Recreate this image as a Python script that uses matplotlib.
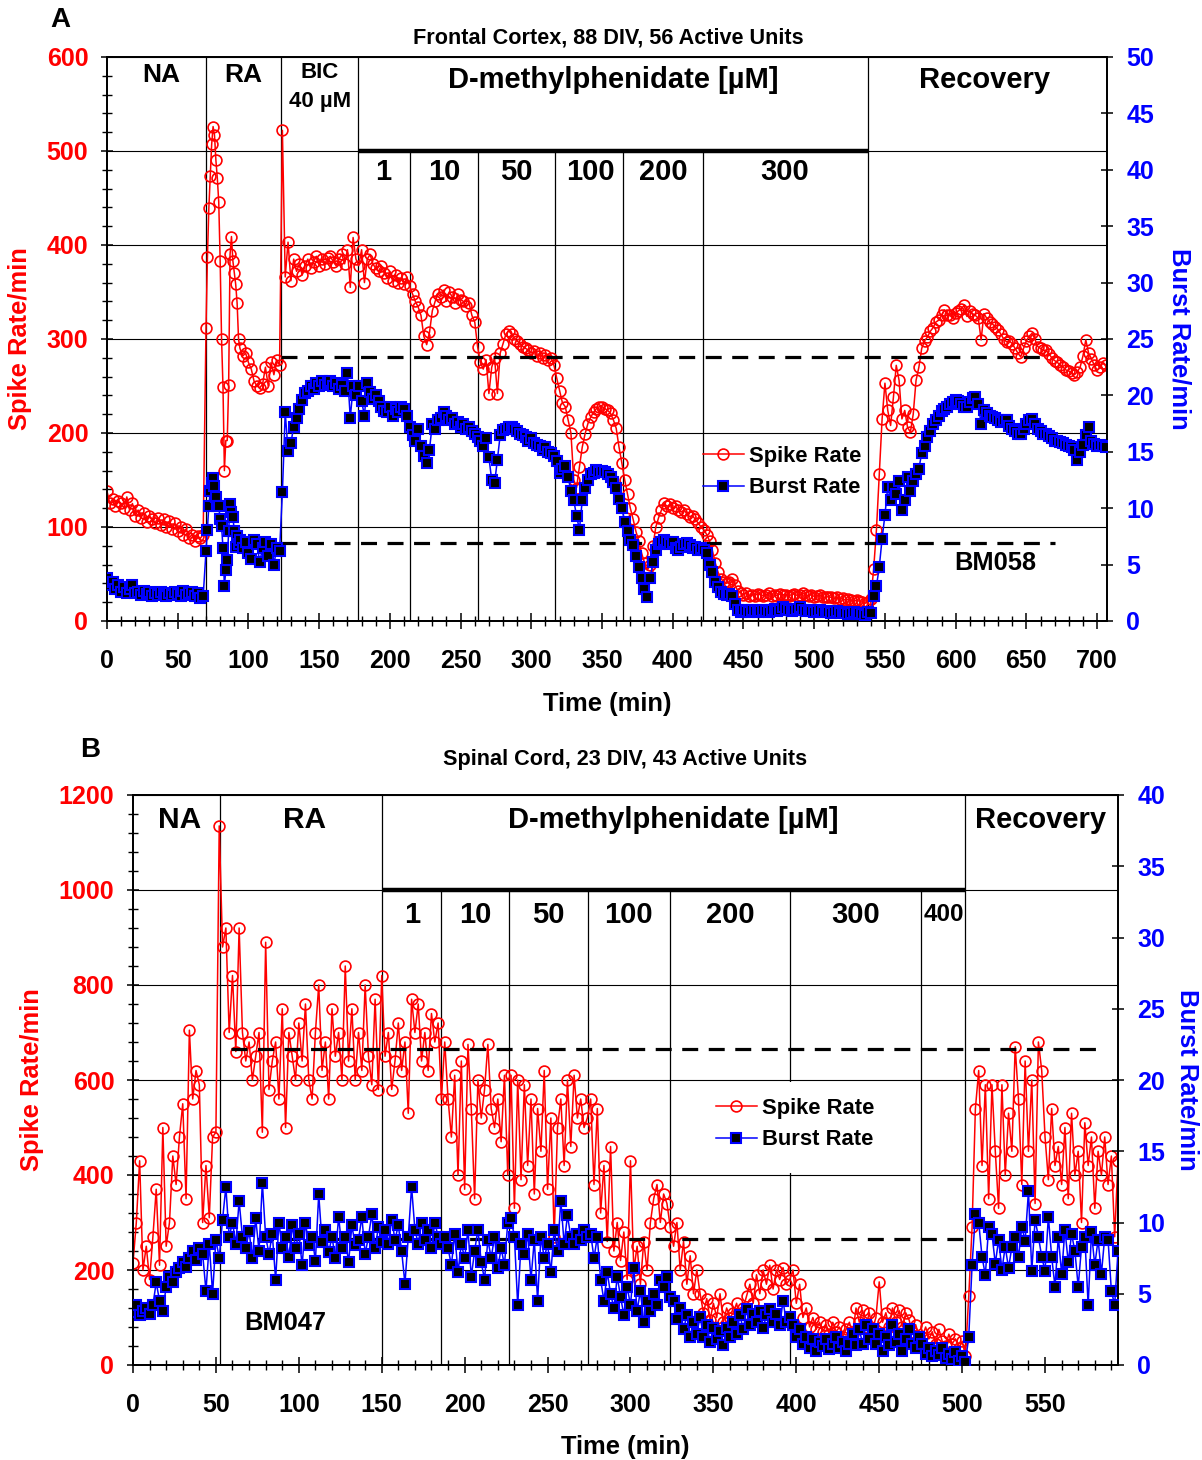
import numpy as np
import matplotlib
matplotlib.use('Agg')
import matplotlib.pyplot as plt
from matplotlib.lines import Line2D
from matplotlib.patches import Rectangle

plt.rcParams['font.family'] = ['Liberation Sans', 'DejaVu Sans']
plt.rcParams['font.weight'] = 'bold'

RED = '#FF0000'
BLUE = '#0000FF'

# ---------------- Panel A data (Frontal Cortex) ----------------
timeA = np.concatenate([np.arange(0, 70, 2), np.arange(70, 94, 1), np.arange(94, 708, 2)])

spikeA_NA = [138, 125, 130, 122, 128, 125, 120, 132, 118, 125, 112, 118, 110, 115, 105, 112, 108, 104, 110, 102,
             108, 100, 106, 98, 104, 96, 100, 92, 98, 88, 92, 85, 90, 88, 92]
spikeA_RA1 = [312, 387, 439, 473, 507, 526, 517, 490, 471, 446, 383, 300, 249, 160, 192, 192, 251, 390, 409, 383,
              370, 358, 338, 300]
spikeA_RA2 = [290, 282, 285, 275, 268, 255, 250, 248, 252, 270, 250, 275, 262, 278, 272]
spikeA_BIC = [522, 366, 403, 362, 385, 372, 380, 368, 378, 385, 375, 382, 388, 378, 385, 380, 386, 388, 382, 378,
              385, 390, 380, 395, 355, 408, 385]
spikeA_1 = [378, 395, 360, 385, 390, 380, 375, 372, 378, 370, 365, 372, 362, 368, 360, 365, 358, 366]
spikeA_10 = [356, 348, 340, 334, 325, 303, 294, 307, 330, 340, 348, 345, 352, 340, 350, 345, 338, 348, 342, 340,
             335, 338, 325, 318]
spikeA_50 = [292, 275, 268, 278, 242, 270, 280, 242, 285, 295, 305, 309, 305, 300, 298, 295, 292, 290, 288, 285,
             287, 282, 285, 280, 283, 278, 280, 272]
spikeA_100 = [258, 245, 232, 228, 214, 200, 150, 142, 164, 185, 199, 210, 217, 222, 226, 228, 228, 226, 224, 221,
              214, 205, 185, 168]
spikeA_200 = [150, 135, 120, 108, 95, 85, 72, 62, 54, 60, 80, 100, 110, 118, 125, 122, 124, 120, 122, 118,
              116, 118, 114, 111, 112, 108, 104, 100]
spikeA_300 = [97, 92, 85, 75, 62, 52, 45, 42, 40, 42, 45, 38, 32, 30, 28, 30, 27, 28, 27, 29,
              28, 27, 28, 30, 27, 28, 27, 29, 28, 28, 27, 28, 29, 27, 28, 30, 28, 27, 28, 26,
              27, 28, 26, 25, 26, 25, 24, 25, 23, 24, 22, 23, 22, 21, 22, 21, 20, 19]
spikeA_REC = [20, 23, 55, 97, 156, 215, 253, 224, 208, 238, 272, 256, 215, 224, 206, 201, 220, 256, 270, 290,
              298, 302, 308, 312, 318, 320, 325, 331, 326, 325, 322, 328, 330, 332, 336, 324, 330, 327, 325, 322,
              299, 327, 322, 318, 316, 313, 310, 305, 300, 297, 298, 295, 290, 285, 281, 290, 298, 303, 306, 300,
              292, 290, 288, 288, 284, 280, 277, 275, 272, 270, 267, 266, 264, 262, 265, 270, 282, 299, 285, 279,
              272, 267, 270, 274, 272]

burstA_NA = [3.8, 3.2, 3.5, 2.8, 3.2, 2.6, 3.0, 2.5, 2.8, 3.2, 2.5, 2.6, 2.3, 2.7, 2.4, 2.6, 2.2, 2.5, 2.3, 2.6,
             2.4, 2.2, 2.5, 2.3, 2.6, 2.4, 2.2, 2.7, 2.3, 2.5, 2.6, 2.2, 2.5, 2.0, 2.2]
burstA_RA1 = [6.2, 8.1, 10.2, 11.5, 12.2, 12.7, 12.0, 11.0, 10.2, 10.2, 9.0, 8.4, 6.5, 3.1, 4.5, 5.4, 8.0, 10.4,
              9.7, 9.2, 8.0, 6.6, 7.5, 6.8]
burstA_RA2 = [7.2, 6.5, 7.0, 6.0, 5.5, 7.2, 6.8, 5.2, 6.5, 7.0, 5.8, 6.8, 5.0, 6.5, 6.2]
burstA_BIC = [11.4, 18.5, 15.1, 15.8, 17.2, 18.0, 18.8, 19.6, 20.2, 20.4, 20.8, 20.6, 21.1, 20.8, 21.3, 20.9,
              21.1, 21.3, 20.8, 21.1, 20.6, 20.9, 20.4, 22.0, 18.0, 20.8, 20.0]
burstA_1 = [20.8, 19.5, 18.2, 21.1, 20.3, 19.7, 20.0, 19.5, 19.0, 18.6, 18.5, 19.0, 18.2, 18.8, 18.5, 19.0, 18.8, 18.2]
burstA_10 = [17.2, 16.5, 16.0, 17.0, 15.5, 14.6, 14.0, 15.2, 17.5, 17.0, 17.8, 18.0, 18.5, 18.2, 17.8, 18.0,
             17.5, 17.6, 17.2, 17.5, 17.0, 17.2, 16.8, 16.6]
burstA_50 = [16.3, 16.0, 15.5, 16.2, 14.5, 12.5, 12.2, 14.3, 16.5, 16.9, 17.0, 17.2, 17.2, 17.0, 16.8, 16.6,
             16.5, 16.3, 16.0, 16.2, 15.8, 15.6, 15.5, 15.2, 15.4, 15.0, 14.9, 14.6]
burstA_100 = [14.2, 13.1, 13.5, 13.7, 12.8, 11.5, 10.7, 9.3, 8.1, 10.7, 11.8, 12.5, 13.0, 13.1, 13.4, 13.2,
              13.3, 13.2, 13.0, 12.8, 12.3, 11.8, 10.8, 10.0]
burstA_200 = [8.8, 8.0, 7.2, 6.7, 5.8, 4.8, 3.8, 2.8, 2.1, 3.8, 5.2, 6.3, 6.8, 7.0, 7.2, 7.0, 6.8, 7.0, 6.5, 6.3,
              6.6, 6.8, 6.9, 6.7, 6.5, 6.6, 6.3, 6.5]
burstA_300 = [6.3, 6.0, 5.0, 4.3, 3.5, 3.0, 2.6, 2.4, 2.3, 2.4, 2.2, 1.5, 1.0, 0.8, 1.0, 0.9, 0.8, 1.0, 0.9, 0.8,
              0.9, 1.0, 0.9, 0.8, 1.0, 1.1, 0.9, 1.0, 1.2, 1.1, 1.0, 0.9, 1.0, 1.1, 1.2, 1.0, 0.9, 1.0, 0.9, 0.8,
              0.9, 1.0, 0.8, 0.9, 0.8, 0.7, 0.8, 0.9, 0.7, 0.8, 0.7, 0.6, 0.7, 0.8, 0.6, 0.7, 0.6, 0.5]
burstA_REC = [0.8, 0.7, 2.2, 3.1, 4.8, 7.3, 9.4, 11.9, 10.7, 11.9, 11.3, 12.4, 9.8, 10.7, 12.8, 11.5, 12.4, 13.0,
              13.5, 14.9, 15.5, 16.3, 16.8, 17.5, 17.8, 18.2, 18.6, 18.8, 19.0, 19.2, 19.4, 19.6, 19.5, 19.2,
              19.0, 19.0, 19.4, 19.8, 19.9, 19.2, 17.5, 18.7, 18.4, 18.2, 18.1, 18.0, 17.8, 17.6, 17.8, 17.8,
              17.3, 17.0, 16.8, 16.6, 16.6, 17.0, 17.5, 17.8, 17.9, 17.5, 17.0, 16.8, 16.6, 16.6, 16.4, 16.2,
              16.0, 16.0, 15.9, 15.8, 15.6, 15.5, 15.4, 15.2, 14.3, 15.0, 15.6, 16.5, 17.2, 16.0, 15.7, 15.5,
              15.6, 15.5, 15.4]

spikeA = np.array(spikeA_NA + spikeA_RA1 + spikeA_RA2 + spikeA_BIC + spikeA_1 + spikeA_10 + spikeA_50 +
                  spikeA_100 + spikeA_200 + spikeA_300 + spikeA_REC, dtype=float)
burstA = np.array(burstA_NA + burstA_RA1 + burstA_RA2 + burstA_BIC + burstA_1 + burstA_10 + burstA_50 +
                  burstA_100 + burstA_200 + burstA_300 + burstA_REC, dtype=float)
assert len(spikeA) == len(timeA) == len(burstA), (len(spikeA), len(timeA), len(burstA))

phaseA_full = [70, 123, 177.5, 538]
phaseA_conc = [214, 262, 317, 365, 421.5]
concA_labels = ['1', '10', '50', '100', '200', '300']
refA_spike = 281      # dashed reference levels (spike-rate scale)
refA_burst = 83

# ---------------- Panel B data (Spinal Cord) ----------------
timeB = np.arange(0, 596, 2)

spikeB_NA = [215, 300, 430, 200, 250, 180, 270, 370, 210, 500, 250, 300, 440, 380, 480, 550, 350, 705, 560, 620,
             590, 300, 420, 310, 480, 490, 1135]
spikeB_RA = [880, 920, 700, 820, 660, 920, 700, 640, 680, 600, 650, 700, 490, 890, 580, 640, 680, 560, 750, 500,
             700, 650, 600, 720, 640, 760, 600, 560, 700, 800, 620, 680, 560, 750, 650, 700, 600, 840, 640, 750,
             600, 700, 620, 800, 650, 590, 770, 580, 820]
spikeB_1 = [650, 700, 580, 640, 720, 620, 680, 530, 770, 700, 760, 640, 700, 620, 740, 680, 720, 560]
spikeB_10 = [680, 560, 480, 610, 400, 640, 370, 675, 540, 350, 600, 520, 580, 675, 540, 500, 560, 470, 610, 400]
spikeB_50 = [610, 330, 600, 390, 590, 420, 560, 360, 540, 450, 620, 370, 520, 270, 500, 560, 420, 600, 460, 610,
             520, 560, 500, 520]
spikeB_100 = [560, 380, 540, 320, 420, 260, 460, 240, 300, 220, 280, 180, 430, 200, 250, 170, 260, 200, 300, 350,
              380, 300, 360, 340, 290]
spikeB_200 = [250, 300, 200, 260, 170, 230, 150, 200, 150, 110, 140, 95, 130, 100, 150, 90, 120, 100, 110, 130,
              95, 120, 145, 170, 130, 190, 150, 200, 170, 210, 160, 200, 180, 205, 170, 180]
spikeB_300 = [200, 130, 170, 100, 120, 80, 100, 75, 90, 70, 85, 65, 90, 70, 80, 60, 75, 90, 65, 120,
              90, 115, 80, 110, 75, 100, 175, 90, 110, 80, 120, 90, 115, 80, 110, 95, 70, 85, 60]
spikeB_400 = [60, 80, 55, 70, 45, 75, 50, 40, 65, 45, 55, 35, 50, 20]
spikeB_REC = [145, 290, 540, 620, 420, 590, 350, 590, 450, 330, 590, 400, 530, 450, 670, 560, 380, 640, 450, 600,
              340, 680, 620, 480, 390, 540, 420, 460, 380, 500, 350, 530, 400, 450, 300, 510, 420, 480, 330, 450,
              400, 480, 380, 440, 270, 430]

burstB_NA = [3.7, 4.2, 3.5, 3.8, 4.0, 3.6, 4.2, 5.8, 4.5, 3.8, 5.5, 6.2, 5.8, 6.5, 6.8, 7.2, 6.9, 7.5, 8.0, 7.4,
             8.2, 7.8, 5.2, 8.5, 5.0, 8.8, 7.5]
burstB_RA = [10.2, 12.5, 9.0, 10.0, 8.5, 11.5, 9.0, 8.2, 9.4, 7.5, 10.3, 8.0, 12.8, 9.0, 7.8, 9.2, 6.0, 10.0, 8.2,
             9.0, 7.6, 9.8, 8.2, 9.2, 7.0, 10.0, 8.4, 9.0, 7.3, 12.0, 8.6, 9.5, 7.9, 9.0, 7.5, 10.4, 8.2, 9.0, 7.2,
             9.8, 8.4, 8.8, 10.4, 7.8, 9.0, 10.6, 8.2, 9.7, 8.6]
burstB_1 = [9.5, 8.5, 10.2, 8.8, 9.8, 8.0, 5.7, 9.0, 12.5, 9.5, 8.5, 10.0, 8.8, 9.5, 8.2, 10.0, 9.0, 8.5]
burstB_10 = [9.0, 8.2, 7.0, 9.2, 6.5, 8.5, 7.5, 9.5, 6.2, 8.0, 9.5, 7.2, 6.0, 8.8, 7.5, 9.0, 6.8, 8.2, 7.0, 10.0]
burstB_50 = [10.3, 9.0, 4.2, 8.5, 7.8, 9.2, 6.0, 8.8, 4.5, 9.0, 7.5, 8.5, 6.5, 9.5, 8.0, 11.5, 8.5, 10.5, 9.0, 8.5,
             9.2, 8.8, 9.5, 9.0]
burstB_100 = [9.2, 7.5, 9.0, 6.0, 4.5, 6.5, 5.0, 4.0, 6.2, 4.8, 3.5, 5.5, 4.2, 6.8, 3.8, 5.2, 3.0, 4.5, 3.8, 5.0,
              4.2, 6.0, 5.5, 6.2, 4.8]
burstB_200 = [4.5, 3.2, 4.0, 2.5, 3.5, 2.0, 3.0, 2.2, 3.4, 2.0, 2.8, 1.6, 2.6, 1.8, 2.4, 1.4, 2.6, 2.0, 3.0, 2.2,
              3.5, 2.5, 3.9, 2.8, 3.6, 3.0, 3.8, 2.6, 3.5, 3.9, 3.0, 3.6, 2.8, 4.5, 3.0, 3.4]
burstB_300 = [2.8, 2.0, 2.5, 1.5, 2.0, 1.2, 1.8, 1.0, 1.6, 1.3, 1.8, 1.1, 1.5, 2.0, 1.2, 1.6, 1.0, 1.5, 2.2, 1.4,
              2.5, 1.5, 2.8, 1.8, 2.5, 1.5, 2.2, 1.0, 2.0, 1.4, 2.8, 1.6, 2.2, 1.0, 1.8, 2.5, 1.5, 1.2, 2.0]
burstB_400 = [1.5, 0.8, 1.2, 0.6, 1.0, 0.7, 1.2, 0.5, 0.8, 0.4, 0.9, 0.3, 0.6, 0.2]
burstB_REC = [2.0, 7.0, 10.6, 10.0, 7.6, 6.3, 9.7, 9.2, 7.1, 8.8, 6.7, 8.3, 6.8, 8.3, 9.0, 7.6, 9.7, 8.7, 12.2, 6.6,
              10.2, 9.0, 7.6, 6.6, 10.4, 7.6, 5.5, 9.0, 6.4, 9.5, 7.2, 9.2, 8.0, 5.5, 8.3, 9.0, 4.2, 9.3, 7.0, 8.8,
              6.4, 9.0, 8.8, 5.2, 4.2, 8.0]

spikeB = np.array(spikeB_NA + spikeB_RA + spikeB_1 + spikeB_10 + spikeB_50 + spikeB_100 + spikeB_200 +
                  spikeB_300 + spikeB_400 + spikeB_REC, dtype=float)
burstB = np.array(burstB_NA + burstB_RA + burstB_1 + burstB_10 + burstB_50 + burstB_100 + burstB_200 +
                  burstB_300 + burstB_400 + burstB_REC, dtype=float)
assert len(spikeB) == len(timeB) == len(burstB), (len(spikeB), len(timeB), len(burstB))

phaseB_full = [52.5, 150, 502]
phaseB_conc = [186, 227, 274.5, 324, 396, 475]
concB_labels = ['1', '10', '50', '100', '200', '300', '400']
refB_spike = 665
refB_burst = 265

# ---------------- Figure ----------------
W, H = 1202, 1460
fig = plt.figure(figsize=(W / 100, H / 100), dpi=100)


def fx(x):
    return x / W


def fy(y):
    return 1 - y / H


def make_axes(l, r, b, t):
    return fig.add_axes([fx(l), fy(b), (r - l) / W, (b - t) / H])


TICK_FS = 18


def style(ax, ax2, xmax, ymax, ystep, yminor, bmax):
    ax.set_xlim(0, xmax)
    ax.set_ylim(0, ymax)
    ax2.set_ylim(0, bmax)
    ax.set_xticks(np.arange(0, xmax + 1, 50))
    ax.set_xticks(np.arange(0, xmax + 1, 10), minor=True)
    ax.set_yticks(np.arange(0, ymax + 1, ystep))
    ax.set_yticks(np.arange(0, ymax + 1, yminor), minor=True)
    ax2.set_yticks(np.arange(0, bmax + 1, 5))
    ax.yaxis.grid(True, which='major', color='black', lw=0.8)
    ax.set_axisbelow(True)
    for a in (ax, ax2):
        for s in a.spines.values():
            s.set_linewidth(1.3)
    ax.tick_params(axis='x', which='major', direction='inout', length=11, width=1.1, pad=14.5,
                   labelsize=TICK_FS, labelcolor='black')
    ax.tick_params(axis='x', which='minor', direction='inout', length=7, width=1.0)
    ax.tick_params(axis='y', which='major', direction='inout', length=8, width=1.1, pad=9.5,
                   labelsize=TICK_FS, labelcolor=RED)
    ax.tick_params(axis='y', which='minor', direction='inout', length=7, width=1.0)
    ax2.tick_params(axis='y', which='major', direction='inout', length=9, width=1.1, pad=9.5,
                    labelsize=TICK_FS, labelcolor=BLUE)
    for lab in ax.get_xticklabels() + ax.get_yticklabels() + ax2.get_yticklabels():
        lab.set_fontweight('bold')


spike_style = dict(color=RED, lw=1.1, marker='o', ms=7.8, mfc='none', mec=RED, mew=1.2)
burst_style = dict(color=BLUE, lw=1.1, marker='s', ms=7.0, mfc='black', mec=BLUE, mew=1.5)
dash = (0, (5, 3.3))
LEG = {'weight': 'bold', 'size': 15.8}


def txt(x, y, s, size, **kw):
    fig.text(fx(x), fy(y), s, fontsize=size, fontweight='bold', ha='center', va='center', **kw)


# ---------- Panel A ----------
axA = make_axes(107, 1107, 621, 57)
axA2 = axA.twinx()
style(axA, axA2, 707, 600, 100, 20, 50)

for t in phaseA_full:
    axA.axvline(t, color='black', lw=0.9, zorder=1.5)
for t in phaseA_conc:
    axA.axvline(t, ymin=0, ymax=500 / 600, color='black', lw=0.9, zorder=1.5)
axA.hlines(500, phaseA_full[2], phaseA_full[3], color='black', lw=3.2, zorder=1.6)
axA.hlines(refA_spike, 123, 666, color='black', lw=2.3, linestyles=[dash], zorder=4)
axA.hlines(refA_burst, 123, 670, color='black', lw=2.3, linestyles=[dash], zorder=4)

axA.plot(timeA, spikeA, zorder=3, **spike_style)
axA2.plot(timeA, burstA, zorder=3, **burst_style)

hA = [Line2D([], [], **spike_style), Line2D([], [], **burst_style)]
axA2.legend(hA, ['Spike Rate', 'Burst Rate'], loc='center left', bbox_to_anchor=(fx(703), fy(472)),
            bbox_transform=fig.transFigure, frameon=False, handlelength=1.85,
            handletextpad=0.25, labelspacing=0.5, borderpad=0, borderaxespad=0, prop=LEG)

txt(60, 20, 'A', 20)
txt(608, 38, 'Frontal Cortex, 88 DIV, 56 Active Units', 15.6)
txt(161, 75, 'NA', 19)
txt(243, 75, 'RA', 19)
txt(320, 73, 'BIC', 16)
txt(320, 102, '40 µM', 16)
txt(613, 80, 'D-methylphenidate [µM]', 21)
txt(985, 80, 'Recovery', 21)
for lab, xp in zip(concA_labels, [383, 444, 516, 590, 663, 785]):
    txt(xp, 172, lab, 21)
txt(995, 563, 'BM058', 18.3)
txt(607, 704, 'Time (min)', 18.4)
txt(20, 339, 'Spike Rate/min', 18.4, color=RED, rotation=90)
txt(1180, 339, 'Burst Rate/min', 18.4, color=BLUE, rotation=270)

# ---------- Panel B ----------
axB = make_axes(133, 1118, 1365, 795)
axB2 = axB.twinx()
style(axB, axB2, 594, 1200, 200, 40, 40)

for t in phaseB_full:
    axB.axvline(t, color='black', lw=0.9, zorder=1.5)
for t in phaseB_conc:
    axB.axvline(t, ymin=0, ymax=1000 / 1200, color='black', lw=0.9, zorder=1.5)
axB.hlines(1000, phaseB_full[1], phaseB_full[2], color='black', lw=3.2, zorder=1.6)
axB.hlines(refB_spike, 59, 582, color='black', lw=2.3, linestyles=[dash], zorder=4)
axB.hlines(refB_burst, 59, 502, color='black', lw=2.3, linestyles=[dash], zorder=4)
axB.add_patch(Rectangle((345, 405), 105, 190, facecolor='white', edgecolor='none', zorder=1.7))

axB.plot(timeB, spikeB, zorder=3, **spike_style)
axB2.plot(timeB, burstB, zorder=3, **burst_style)

axB2.legend(hA, ['Spike Rate', 'Burst Rate'], loc='center left', bbox_to_anchor=(fx(716), fy(1124)),
            bbox_transform=fig.transFigure, frameon=False, handlelength=1.85,
            handletextpad=0.25, labelspacing=0.5, borderpad=0, borderaxespad=0, prop=LEG)

txt(90, 750, 'B', 20)
txt(625, 760, 'Spinal Cord, 23 DIV, 43 Active Units', 15.6)
txt(180, 820, 'NA', 21.5)
txt(305, 820, 'RA', 21.5)
txt(673, 820, 'D-methylphenidate [µM]', 21)
txt(1041, 820, 'Recovery', 21)
for lab, xp in zip(concB_labels, [412, 475, 548, 628, 730, 856, 944]):
    txt(xp, 915, lab, 17.5 if lab == '400' else 21)
txt(285, 1323, 'BM047', 18.3)
txt(625, 1447, 'Time (min)', 18.4)
txt(32, 1080, 'Spike Rate/min', 18.4, color=RED, rotation=90)
txt(1188, 1080, 'Burst Rate/min', 18.4, color=BLUE, rotation=270)

fig.savefig('out.png', dpi=100)
